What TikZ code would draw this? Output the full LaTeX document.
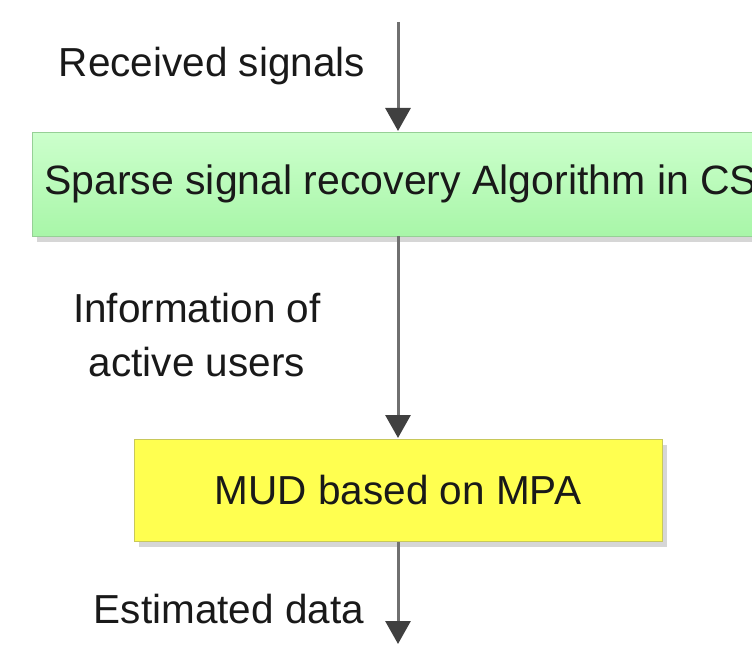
\documentclass[tikz,border=0pt]{standalone}
\usepackage{fontspec}
\setmainfont{Liberation Sans}
\usetikzlibrary{arrows.meta,shadows}
\definecolor{greenTop}{RGB}{204,255,204}
\definecolor{greenBot}{RGB}{168,246,168}
\definecolor{greenLine}{RGB}{150,208,150}
\definecolor{yellowFill}{RGB}{255,255,80}
\definecolor{yellowLine}{RGB}{200,200,90}
\definecolor{shaftGray}{RGB}{112,112,112}
\definecolor{headGray}{RGB}{64,64,64}
\tikzset{
  label text/.style={font=\fontsize{40.5}{50}\selectfont, inner sep=0pt, align=center, text=black!90},
  procbox/.style={draw, line width=1.2pt, inner sep=0pt,
    drop shadow={shadow xshift=4pt, shadow yshift=-5pt, fill=black!20, opacity=0.8}},
  flow/.style={draw=shaftGray, line width=3pt,
    -{Triangle[length=23pt,width=25pt,fill=headGray,color=headGray]}, shorten >=1pt},
}
\begin{document}
\begin{tikzpicture}[x=1pt,y=-1pt]
  \useasboundingbox (0,0) rectangle (752,655);
  % processing blocks
  \node[procbox, draw=greenLine, top color=greenTop, bottom color=greenBot,
        minimum width=780pt, minimum height=104pt, anchor=north west]
        (recovery) at (32,132) {};
  \node[label text, font=\fontsize{41}{50}\selectfont, anchor=west] (recoveryText) at (44,184)
        {Sparse signal recovery Algorithm in CS};
  \node[procbox, draw=yellowLine, fill=yellowFill,
        minimum width=528pt, minimum height=102pt, anchor=north west]
        (mud) at (134,439) {};
  \node[label text] (mudText) at (398,490) {MUD based on MPA};
  % signal flow
  \coordinate (input) at (398,22);
  \coordinate (recoveryIn) at (398,132);
  \coordinate (recoveryOut) at (398,236);
  \coordinate (output) at (398,645);
  \draw[flow] (input) -- (recoveryIn);
  \draw[flow] (recoveryOut) -- (mud.north -| recoveryOut);
  \draw[flow] (mud.south -| recoveryOut) -- (output);
  % flow labels
  \node[label text] (received) at (212,66) {Received signals};
  \node[label text] (info) at (197,335) {Information of\\[4pt]active users};
  \node[label text] (estimated) at (229,609) {Estimated data};
\end{tikzpicture}
\end{document}
